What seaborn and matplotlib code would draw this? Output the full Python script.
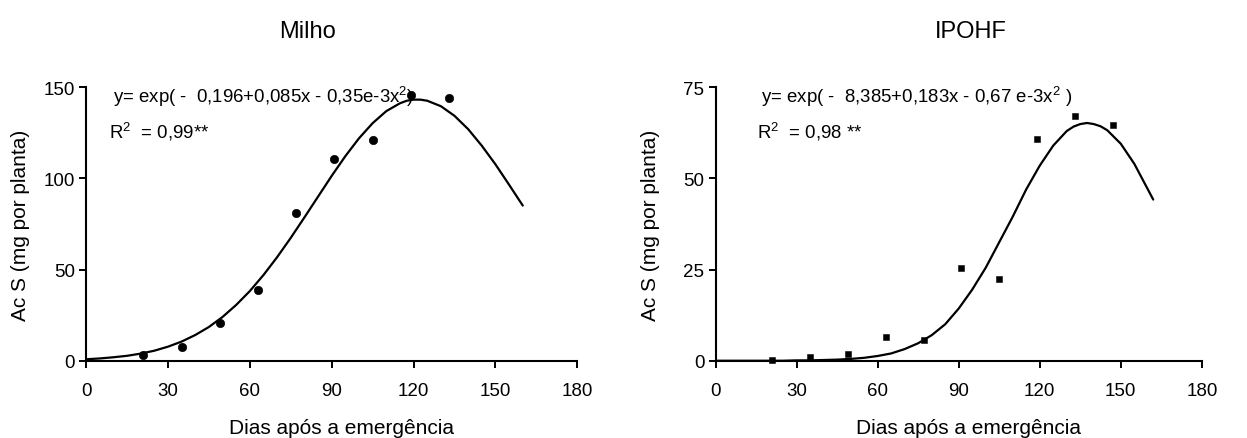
import numpy as np
import pandas as pd
import matplotlib
matplotlib.use('Agg')
import matplotlib.pyplot as plt
import seaborn as sns

# observed points
dias = [21, 35, 49, 63, 77, 91, 105, 119, 133]
milho_obs = [3.3, 7.7, 20.7, 38.6, 80.8, 110.8, 120.8, 145.7, 143.9]

dias_ipo = [21, 35, 49, 63, 77, 91, 105, 119, 133, 147]
ipohf_obs = [0.3, 0.9, 1.8, 6.4, 5.6, 25.3, 22.5, 60.8, 67.1, 64.7]

# fitted curves
curva_x = [0, 5, 10, 15, 20, 25, 30, 35, 40, 45, 50, 55, 60, 65, 70, 75, 80,
           85, 90, 95, 100, 105, 110, 115, 117.5, 120, 122.5, 125, 130, 135, 140,
           145, 150, 155, 160]
milho_fit = [0.8, 1.25, 1.9, 2.7, 3.9, 5.5, 7.7, 10.5, 14.1, 18.5, 24.0, 30.6, 38.2,
             47.0, 56.8, 67.4, 78.6, 90.0, 101.4, 112.2, 122.0, 130.3, 136.9, 141.2,
             142.6, 143.2, 143.2, 142.6, 139.6, 134.3, 127.0, 117.9, 107.7, 96.5, 85.1]

curva_x_ipo = [0, 5, 10, 15, 20, 25, 30, 35, 40, 45, 50, 55, 60, 65, 70, 75, 80,
               85, 90, 95, 100, 105, 110, 115, 120, 125, 130, 132.5, 135, 137.5, 140,
               142.5, 145, 150, 155, 160, 162]
ipohf_fit = [0.0, 0.0, 0.0, 0.0, 0.0, 0.0, 0.1, 0.1, 0.2, 0.3, 0.5, 0.8, 1.3, 2.0, 3.2,
             4.8, 7.0, 10.0, 14.3, 19.5, 25.5, 32.5, 39.5, 47.0, 53.5, 59.0, 63.0, 64.2,
             64.9, 65.2, 64.9, 64.3, 63.2, 59.5, 54.0, 47.0, 44.2]

sns.set_style('ticks')
plt.rcParams['font.family'] = ['Liberation Sans', 'DejaVu Sans']
plt.rcParams['mathtext.fontset'] = 'custom'
plt.rcParams['mathtext.rm'] = 'Liberation Sans'
plt.rcParams['mathtext.it'] = 'Liberation Sans'
plt.rcParams['text.color'] = 'black'
plt.rcParams['axes.labelcolor'] = 'black'
plt.rcParams['xtick.color'] = 'black'
plt.rcParams['ytick.color'] = 'black'

fig = plt.figure(figsize=(12.47, 4.39), dpi=100)
ax1 = fig.add_axes([0.069, 0.176, 0.394, 0.623])
ax2 = fig.add_axes([0.5738, 0.176, 0.390, 0.623])

df1 = pd.DataFrame({'dias': dias, 'acs': milho_obs})
fit1 = pd.DataFrame({'dias': curva_x, 'acs': milho_fit})
df2 = pd.DataFrame({'dias': dias_ipo, 'acs': ipohf_obs})
fit2 = pd.DataFrame({'dias': curva_x_ipo, 'acs': ipohf_fit})

sns.lineplot(data=fit1, x='dias', y='acs', color='black', lw=1.6, ax=ax1)
sns.scatterplot(data=df1, x='dias', y='acs', color='black', marker='o', s=36,
                edgecolor='black', ax=ax1, zorder=3, clip_on=False)

sns.lineplot(data=fit2, x='dias', y='acs', color='black', lw=1.6, ax=ax2)
sns.scatterplot(data=df2, x='dias', y='acs', color='black', marker='s', s=22,
                edgecolor='black', ax=ax2, zorder=3, clip_on=False)

for ax, top, step in [(ax1, 150, 50), (ax2, 75, 25)]:
    ax.set_xlim(0, 180)
    ax.set_ylim(0, top)
    ax.set_xticks(range(0, 181, 30))
    ax.set_yticks(range(0, top + 1, step))
    ax.tick_params(direction='out', length=5, width=1.4, labelsize=13.5, color='black')
    ax.tick_params(axis='x', pad=10)
    ax.tick_params(axis='y', pad=3)
    for s in ['left', 'bottom']:
        ax.spines[s].set_linewidth(1.5)
        ax.spines[s].set_color('black')
    sns.despine(ax=ax)
    ax.set_xlabel('Dias após a emergência', fontsize=15)
    ax.set_ylabel('Ac S (mg por planta)', fontsize=15)
    ax.xaxis.set_label_coords(0.52, -0.21)
    ax.yaxis.set_label_coords(-0.115, 0.5)

ax1.set_title('Milho', fontsize=17, x=0.45, pad=36)
ax2.set_title('IPOHF', fontsize=17, x=0.525, pad=36)

ax1.text(10, 145.4, 'y= exp( -  0,196+0,085x - 0,35e-3x$^2$)', fontsize=13.4, va='center')
ax1.text(8.5, 126, 'R$^2$  = 0,99**', fontsize=13.4, va='center')
ax2.text(17, 72.5, 'y= exp( -  8,385+0,183x - 0,67 e-3x$^2$ )', fontsize=13.4, va='center')
ax2.text(15.5, 63, 'R$^2$  = 0,98 **', fontsize=13.4, va='center')

fig.savefig('out.png', dpi=100)
